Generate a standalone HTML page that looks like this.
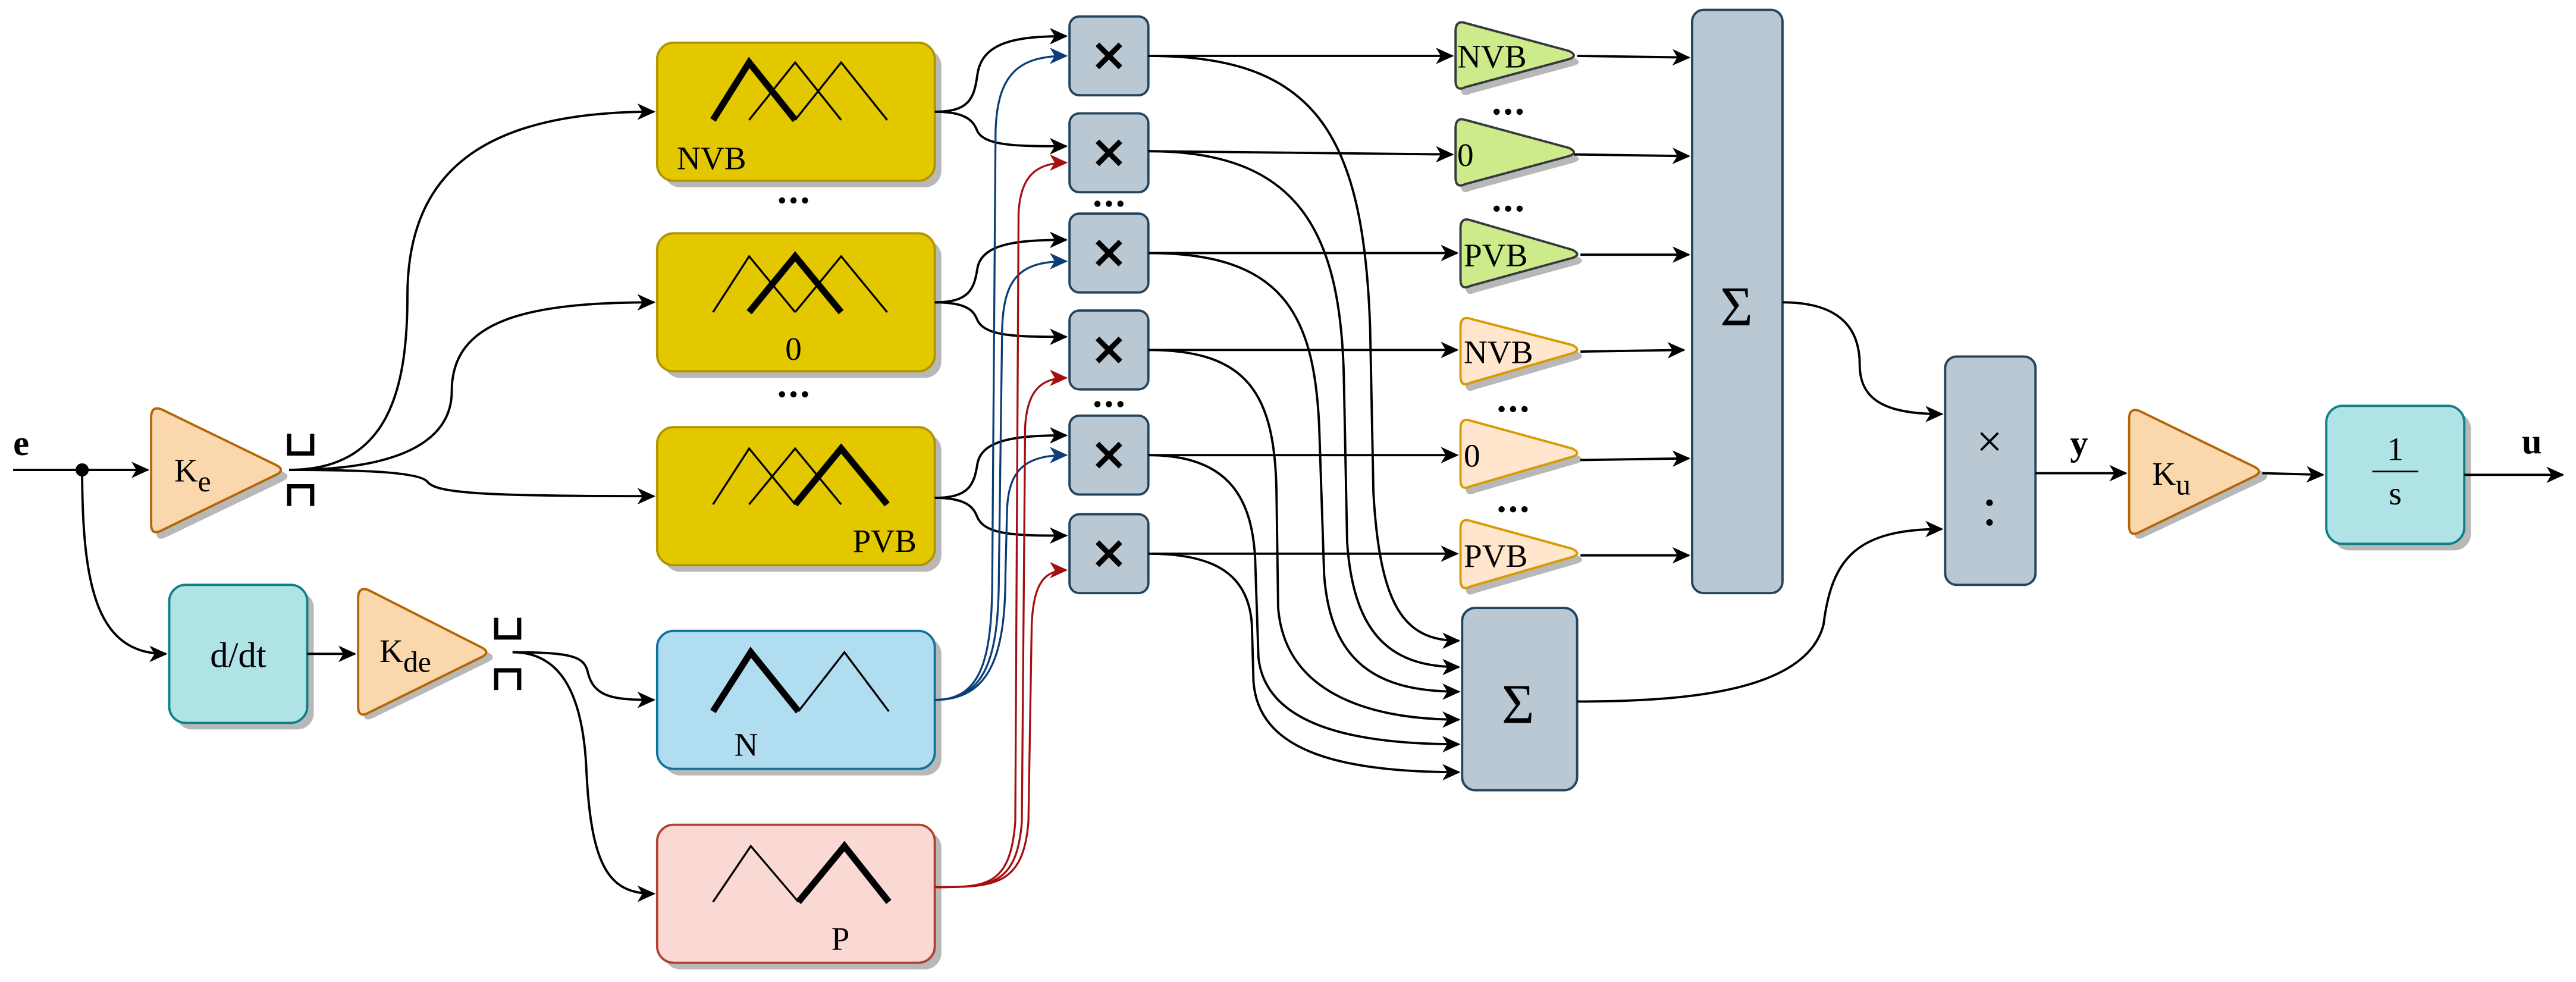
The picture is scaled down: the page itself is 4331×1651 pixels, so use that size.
<!DOCTYPE html>
<html><head><meta charset="utf-8"><style>html,body{margin:0;padding:0;background:#fff}svg{display:block}</style></head>
<body>
<svg xmlns="http://www.w3.org/2000/svg" width="4331" height="1651" viewBox="0 0 1568 597.7" font-family="Liberation Serif, serif">
<defs>
<marker id="ak" markerWidth="12" markerHeight="10" refX="10" refY="5" orient="auto" markerUnits="userSpaceOnUse"><path d="M0,0 L11,5 L0,10 L3,5 Z" fill="#000"/></marker>
<marker id="ab" markerWidth="12" markerHeight="10" refX="10" refY="5" orient="auto" markerUnits="userSpaceOnUse"><path d="M0,0 L11,5 L0,10 L3,5 Z" fill="#0b3d78"/></marker>
<marker id="ar" markerWidth="12" markerHeight="10" refX="10" refY="5" orient="auto" markerUnits="userSpaceOnUse"><path d="M0,0 L11,5 L0,10 L3,5 Z" fill="#a50f0f"/></marker>
</defs>

<g fill="#b8b8b8">
<rect x="404" y="30" width="169" height="84" rx="10"/>
<rect x="404" y="146" width="169" height="84" rx="10"/>
<rect x="404" y="264" width="169" height="84" rx="10"/>
<rect x="404" y="388" width="169" height="84" rx="10"/>
<rect x="404" y="506" width="169" height="84" rx="10"/>
<rect x="107" y="360" width="84" height="84" rx="10"/>
<rect x="1420" y="251" width="84" height="84" rx="10"/>
<path d="M95,258 Q95,251 101,253 L172,287 Q178,290 172,293 L101,327 Q95,330 95,323 Z"/>
<path d="M221,368 Q221,361 227,363 L297,397 Q303,400 297,403 L227,437 Q221,440 221,433 Z"/>
<path d="M1299,258 Q1299,251 1305,253 L1377,287 Q1383,290 1377,293 L1305,327 Q1299,330 1299,323 Z"/>
<path d="M889,23 Q889,16 895,18 L958,35 Q964,38 958,40 L895,57 Q889,60 889,53 Z"/>
<path d="M889,82 Q889,75 895,77 L958,94 Q964,97 958,99 L895,116 Q889,119 889,112 Z"/>
<path d="M892,143 Q892,136 898,138 L960,156 Q966,159 960,161 L898,178 Q892,181 892,174 Z"/>
<path d="M892,203 Q892,196 898,198 L960,214 Q966,217 960,219 L898,237 Q892,240 892,233 Z"/>
<path d="M892,265 Q892,258 898,260 L960,277 Q966,280 960,282 L898,300 Q892,303 892,296 Z"/>
<path d="M892,326 Q892,319 898,321 L960,338 Q966,341 960,343 L898,361 Q892,364 892,357 Z"/>
</g>

<text x="8" y="277" font-size="22" font-weight="bold">e</text>
<line x1="8" y1="286" x2="90" y2="286" stroke="#000" stroke-width="1.4" marker-end="url(#ak)"/>
<circle cx="50" cy="286" r="4" fill="#000"/>
<path d="M50,286 C50,360 60,398 101,398" fill="none" stroke="#000" stroke-width="1.4" marker-end="url(#ak)"/>

<path d="M92,254 Q92,247 98,249 L168,283 Q174,286 168,289 L98,323 Q92,326 92,319 Z" fill="#fad7ac" stroke="#b46504" stroke-width="1.4"/>
<text x="106" y="293" font-size="20">K<tspan font-size="18" dy="6">e</tspan></text>
<path d="M176,264 V276 H190 V264 M176,308 V296 H190 V308" fill="none" stroke="#000" stroke-width="2.6"/>

<rect x="103" y="356" width="84" height="84" rx="10" fill="#b0e3e6" stroke="#0e8088" stroke-width="1.4"/>
<text x="145" y="406" font-size="22" text-anchor="middle">d/dt</text>
<line x1="187" y1="398" x2="216" y2="398" stroke="#000" stroke-width="1.4" marker-end="url(#ak)"/>

<path d="M218,364 Q218,357 224,359 L293,394 Q299,397 293,400 L224,434 Q218,437 218,430 Z" fill="#fad7ac" stroke="#b46504" stroke-width="1.4"/>
<text x="231" y="403" font-size="20">K<tspan font-size="18" dy="6">de</tspan></text>
<path d="M302,376 V388 H316 V376 M302,420 V408 H316 V420" fill="none" stroke="#000" stroke-width="2.6"/>

<g fill="none" stroke="#000" stroke-width="1.4">
<path d="M176,286 C235,286 248,240 248,180 C248,100 300,68 398,68" marker-end="url(#ak)"/>
<path d="M176,286 C250,286 275,265 275,238 C275,195 320,184 398,184" marker-end="url(#ak)"/>
<path d="M176,286 C230,286 255,288 260,293 C265,300 290,302 398,302" marker-end="url(#ak)"/>
<path d="M312,397 C350,397 356,400 358,410 C362,425 375,426 398,426" marker-end="url(#ak)"/>
<path d="M312,397 C340,397 355,420 357,470 C360,530 372,544 398,544" marker-end="url(#ak)"/>
</g>

<g stroke="#b09500" stroke-width="1.4" fill="#e3c800">
<rect x="400" y="26" width="169" height="84" rx="10"/>
<rect x="400" y="142" width="169" height="84" rx="10"/>
<rect x="400" y="260" width="169" height="84" rx="10"/>
</g>
<rect x="400" y="384" width="169" height="84" rx="10" fill="#b1ddf0" stroke="#10739e" stroke-width="1.4"/>
<rect x="400" y="502" width="169" height="84" rx="10" fill="#fad9d5" stroke="#ae4132" stroke-width="1.4"/>
<g fill="none" stroke="#000" stroke-width="1.2">
<path d="M456,73 L484,38 L512,73 M484,73 L512,38 L540,73"/>
<path d="M434,190 L456,156 L484,190 M484,190 L512,156 L540,190"/>
<path d="M434,307 L456,273 L484,307 M456,307 L484,273 L512,307"/>
<path d="M486,433 L514,397 L541,433"/>
<path d="M434,549 L457,515 L486,549"/>
</g>
<g fill="none" stroke="#000" stroke-width="4">
<path d="M434,73 L456,38 L484,73"/>
<path d="M456,190 L484,156 L512,190"/>
<path d="M484,307 L512,273 L540,307"/>
<path d="M434,433 L457,397 L486,433"/>
<path d="M486,549 L514,515 L541,549"/>
</g>
<g font-size="20">
<text x="412" y="103">NVB</text>
<text x="483" y="219" text-anchor="middle">0</text>
<text x="519" y="336">PVB</text>
<text x="447" y="460">N</text>
<text x="506" y="578">P</text>
</g>
<g fill="#000">
<circle cx="476" cy="122" r="1.9"/><circle cx="483" cy="122" r="1.9"/><circle cx="490" cy="122" r="1.9"/>
<circle cx="476" cy="240" r="1.9"/><circle cx="483" cy="240" r="1.9"/><circle cx="490" cy="240" r="1.9"/>
<circle cx="668" cy="124" r="1.9"/><circle cx="675" cy="124" r="1.9"/><circle cx="682" cy="124" r="1.9"/>
<circle cx="668" cy="246" r="1.9"/><circle cx="675" cy="246" r="1.9"/><circle cx="682" cy="246" r="1.9"/>
<circle cx="911" cy="68" r="1.9"/><circle cx="918" cy="68" r="1.9"/><circle cx="925" cy="68" r="1.9"/>
<circle cx="911" cy="127" r="1.9"/><circle cx="918" cy="127" r="1.9"/><circle cx="925" cy="127" r="1.9"/>
<circle cx="914" cy="249" r="1.9"/><circle cx="921" cy="249" r="1.9"/><circle cx="928" cy="249" r="1.9"/>
<circle cx="914" cy="310" r="1.9"/><circle cx="921" cy="310" r="1.9"/><circle cx="928" cy="310" r="1.9"/>
</g>

<g fill="none" stroke="#000" stroke-width="1.4">
<path d="M569,68 C590,68 593,60 595,45 C598,25 620,22 649,22" marker-end="url(#ak)"/>
<path d="M569,68 C590,68 593,75 595,80 C600,89 620,89 649,89" marker-end="url(#ak)"/>
<path d="M569,184 C590,184 593,176 595,163 C598,148 620,146 649,146" marker-end="url(#ak)"/>
<path d="M569,184 C590,184 593,190 595,195 C600,205 620,205 649,205" marker-end="url(#ak)"/>
<path d="M569,303 C590,303 593,295 595,282 C598,267 620,265 649,265" marker-end="url(#ak)"/>
<path d="M569,303 C590,303 593,310 595,315 C600,326 620,326 649,326" marker-end="url(#ak)"/>
</g>
<g fill="none" stroke="#0b3d78" stroke-width="1.2">
<path d="M569,426 C598,426 604,400 604,350 L606,80 C607,45 620,34 649,34" marker-end="url(#ab)"/>
<path d="M569,426 C600,426 608,400 608,350 L610,200 C611,170 620,159 649,159" marker-end="url(#ab)"/>
<path d="M569,426 C602,426 612,400 612,350 L613,310 C614,288 622,277 649,277" marker-end="url(#ab)"/>
</g>
<g fill="none" stroke="#a50f0f" stroke-width="1.2">
<path d="M569,540 C600,540 615,540 618,500 L620,130 C621,108 630,99 649,99" marker-end="url(#ar)"/>
<path d="M569,540 C602,540 619,540 622,500 L624,260 C625,240 632,230 649,230" marker-end="url(#ar)"/>
<path d="M569,540 C604,540 623,540 626,500 L628,380 C629,358 634,347 649,347" marker-end="url(#ar)"/>
</g>

<g fill="#bac8d3" stroke="#23445d" stroke-width="1.4">
<rect x="651" y="10" width="48" height="48" rx="6"/>
<rect x="651" y="69" width="48" height="48" rx="6"/>
<rect x="651" y="130" width="48" height="48" rx="6"/>
<rect x="651" y="189" width="48" height="48" rx="6"/>
<rect x="651" y="253" width="48" height="48" rx="6"/>
<rect x="651" y="313" width="48" height="48" rx="6"/>
</g>
<g stroke="#000" stroke-width="3.2">
<path d="M668,27 L682,41 M682,27 L668,41"/>
<path d="M668,86 L682,100 M682,86 L668,100"/>
<path d="M668,147 L682,161 M682,147 L668,161"/>
<path d="M668,206 L682,220 M682,206 L668,220"/>
<path d="M668,270 L682,284 M682,270 L668,284"/>
<path d="M668,330 L682,344 M682,330 L668,344"/>
</g>

<g fill="none" stroke="#000" stroke-width="1.4">
<line x1="699" y1="34" x2="884" y2="34" marker-end="url(#ak)"/>
<line x1="699" y1="92" x2="884" y2="94" marker-end="url(#ak)"/>
<line x1="699" y1="154" x2="887" y2="154" marker-end="url(#ak)"/>
<line x1="699" y1="213" x2="887" y2="213" marker-end="url(#ak)"/>
<line x1="699" y1="277" x2="887" y2="277" marker-end="url(#ak)"/>
<line x1="699" y1="337" x2="887" y2="337" marker-end="url(#ak)"/>
<path d="M699,34 C800,34 830,80 834,200 L836,300 C840,370 855,390 888,390" marker-end="url(#ak)"/>
<path d="M699,92 C790,92 816,140 818,230 L820,330 C824,390 850,406 888,406" marker-end="url(#ak)"/>
<path d="M699,154 C780,154 800,190 803,260 L806,350 C810,405 840,421 888,421" marker-end="url(#ak)"/>
<path d="M699,213 C760,213 776,240 777,300 L778,370 C782,420 830,438 888,438" marker-end="url(#ak)"/>
<path d="M699,277 C745,277 762,300 764,340 L766,400 C770,440 820,453 888,453" marker-end="url(#ak)"/>
<path d="M699,337 C740,337 760,350 762,380 L763,415 C766,455 810,470 888,470" marker-end="url(#ak)"/>
<line x1="960" y1="34" x2="1028" y2="35" marker-end="url(#ak)"/>
<line x1="958" y1="94" x2="1028" y2="95" marker-end="url(#ak)"/>
<line x1="962" y1="155" x2="1028" y2="155" marker-end="url(#ak)"/>
<line x1="962" y1="214" x2="1025" y2="213" marker-end="url(#ak)"/>
<line x1="962" y1="280" x2="1028" y2="279" marker-end="url(#ak)"/>
<line x1="962" y1="338" x2="1028" y2="338" marker-end="url(#ak)"/>
</g>

<g fill="#cdeb8b" stroke="#36393d" stroke-width="1.4">
<path d="M886,19 Q886,12 892,14 L955,31 Q961,34 955,36 L892,53 Q886,56 886,49 Z"/>
<path d="M886,78 Q886,71 892,73 L955,90 Q961,93 955,95 L892,112 Q886,115 886,108 Z"/>
<path d="M889,139 Q889,132 895,134 L957,152 Q963,155 957,157 L895,174 Q889,177 889,170 Z"/>
</g>
<g fill="#ffe6cc" stroke="#d79b00" stroke-width="1.4">
<path d="M889,199 Q889,192 895,194 L957,210 Q963,213 957,215 L895,233 Q889,236 889,229 Z"/>
<path d="M889,261 Q889,254 895,256 L957,273 Q963,276 957,278 L895,296 Q889,299 889,292 Z"/>
<path d="M889,322 Q889,315 895,317 L957,334 Q963,337 957,339 L895,357 Q889,360 889,353 Z"/>
</g>
<g font-size="20">
<text x="887" y="41">NVB</text>
<text x="887" y="101">0</text>
<text x="891" y="162">PVB</text>
<text x="891" y="221">NVB</text>
<text x="891" y="284">0</text>
<text x="891" y="345">PVB</text>
</g>

<rect x="1030" y="6" width="55" height="355" rx="7" fill="#bac8d3" stroke="#23445d" stroke-width="1.4"/>
<text x="1057" y="198" font-size="34" text-anchor="middle">Σ</text>
<rect x="890" y="370" width="70" height="111" rx="8" fill="#bac8d3" stroke="#23445d" stroke-width="1.4"/>
<text x="924" y="440" font-size="34" text-anchor="middle">Σ</text>

<g fill="none" stroke="#000" stroke-width="1.4">
<path d="M1085,184 C1120,184 1132,200 1132,222 C1132,245 1150,252 1182,252" marker-end="url(#ak)"/>
<path d="M960,427 C1030,427 1100,420 1110,380 C1115,340 1130,322 1182,322" marker-end="url(#ak)"/>
</g>

<rect x="1184" y="217" width="55" height="139" rx="7" fill="#bac8d3" stroke="#23445d" stroke-width="1.4"/>
<text x="1211" y="278" font-size="28" text-anchor="middle">×</text>
<circle cx="1211" cy="306" r="2" fill="#000"/><circle cx="1211" cy="318" r="2" fill="#000"/>
<text x="1260" y="277" font-size="22" font-weight="bold">y</text>
<line x1="1239" y1="288" x2="1294" y2="288" stroke="#000" stroke-width="1.4" marker-end="url(#ak)"/>

<path d="M1296,255 Q1296,248 1302,250 L1372,284 Q1378,287 1372,290 L1302,324 Q1296,327 1296,320 Z" fill="#fad7ac" stroke="#b46504" stroke-width="1.4"/>
<text x="1310" y="295" font-size="20">K<tspan font-size="18" dy="6">u</tspan></text>
<line x1="1377" y1="288" x2="1414" y2="289" stroke="#000" stroke-width="1.4" marker-end="url(#ak)"/>

<rect x="1416" y="247" width="84" height="84" rx="10" fill="#b0e3e6" stroke="#0e8088" stroke-width="1.4"/>
<text x="1458" y="280" font-size="20" text-anchor="middle">1</text>
<line x1="1444" y1="287" x2="1472" y2="287" stroke="#000" stroke-width="1"/>
<text x="1458" y="307" font-size="20" text-anchor="middle">s</text>
<text x="1535" y="276" font-size="22" font-weight="bold">u</text>
<line x1="1500" y1="289" x2="1560" y2="289" stroke="#000" stroke-width="1.4" marker-end="url(#ak)"/>
</svg>
</body></html>
